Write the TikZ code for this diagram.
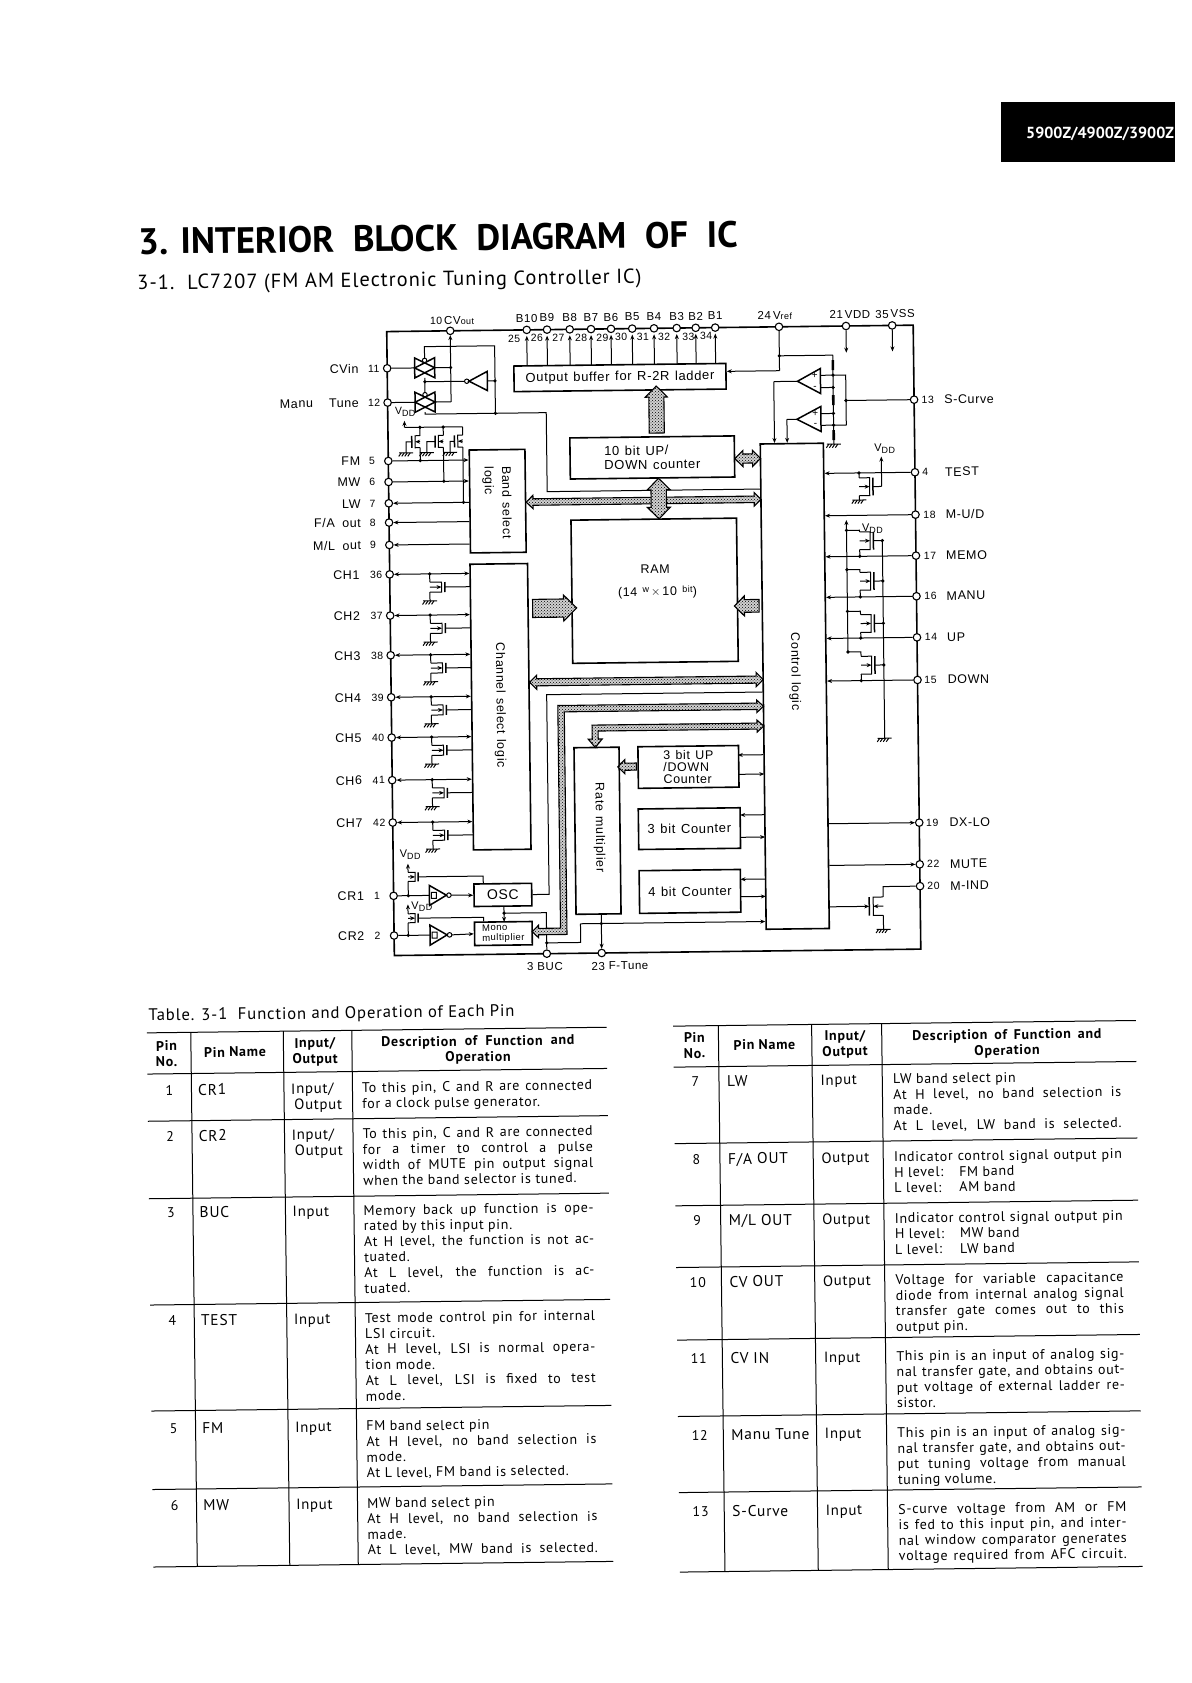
\documentclass[tikz,border=0pt]{standalone}
\usepackage{fontspec}
\setmainfont[LetterSpace=5,WordSpace=1.3]{Liberation Sans}
\newfontfamily\pagefont[LetterSpace=5]{PT Sans}
\newfontfamily\headfont{PT Sans}
\usetikzlibrary{shapes.arrows, arrows.meta, positioning, calc, patterns}

\newcommand{\jct}[2]{\fill (#1,#2) circle (1.8pt);}
\newcommand{\gnd}[2]{%
  \draw[wire] (#1-7,#2) -- (#1+7,#2);
  \foreach \tk in {-5,-2,1,4} \draw[wire] (#1+\tk,#2) -- ++(-2.5,3.5);
}
% x, y, jog, gate offset, half height
\newcommand{\mosfet}[5]{%
  \draw[wire] (#1,#2-#5) -- (#1+#3,#2-#5) -- (#1+#3,#2+#5) -- (#1,#2+#5);
  \draw[arr] (#1,#2) -- (#1+#3,#2);
  \draw[heavy] (#1+#4,#2-#5) -- (#1+#4,#2+#5);
}
\newcommand{\tgate}[2]{%
  \draw[heavy] (#1-10,#2-10) -- (#1+10,#2) -- (#1-10,#2+10) -- cycle;
  \draw[heavy] (#1+10,#2-10) -- (#1-10,#2) -- (#1+10,#2+10) -- cycle;
  \draw[wire, fill=white] (#1,#2-7.5) circle (2.2pt);
}
\newcommand{\schmitt}[2]{%
  \draw[heavy] (#1,#2-10) -- (#1+17,#2) -- (#1,#2+10) -- cycle;
  \draw[wire] (#1+2,#2-3) rectangle (#1+7,#2+3);
  \draw[wire] (#1+19.5,#2) circle (2.3pt);
}
\newcommand{\vdd}{V\raisebox{-2pt}{\fontsize{9}{9}\selectfont DD}}
\newcommand{\jL}[1]{\makebox[230pt][s]{#1}}
\newcommand{\jR}[1]{\makebox[228pt][s]{#1}}
\newcommand{\rowL}[6]{%
  \node[cell, anchor=north] (no#1) at (164,#2-5.5) {#3};
  \node[namecell, anchor=north west] (nm#1) at (192.5,#2-6) {#4};
  \node[iocell, anchor=north west] (io#1) at (285.5,#2-5.5) {#5};
  \node[cell, anchor=north west] (de#1) at (356.5,#2-5.5) {#6};
}
\newcommand{\rowR}[6]{%
  \node[cell, anchor=north] (no#1) at (690,#2-5.5) {#3};
  \node[namecell, anchor=north west] (nm#1) at (721.5,#2-6) {#4};
  \node[iocell, anchor=north west] (io#1) at (815,#2-5.5) {#5};
  \node[cell, anchor=north west] (de#1) at (887.5,#2-5.5) {#6};
}

\begin{document}
\begin{tikzpicture}[
    x=1pt, y=-1pt,
    wire/.style={line width=1pt},
    heavy/.style={line width=1.5pt},
    arr/.style={line width=1pt, -{Stealth[length=5pt,width=4pt]}},
    darr/.style={line width=1pt, {Stealth[length=5pt,width=4pt]}-{Stealth[length=5pt,width=4pt]}},
    rail/.style={line width=1.6pt},
    rule/.style={line width=1pt},
    padnode/.style={circle, draw, fill=white, line width=1.1pt, minimum size=7.5pt, inner sep=0pt},
    block/.style={rectangle, draw, line width=1.6pt, fill=white, inner sep=0pt, font=\fontsize{13}{14}\selectfont},
    lbl/.style={inner sep=0pt, font=\fontsize{12.5}{14}\selectfont},
    num/.style={inner sep=0pt, font=\fontsize{10.5}{12}\selectfont},
    toplbl/.style={inner sep=0pt, font=\fontsize{11.5}{13}\selectfont},
    rotlbl/.style={inner sep=0pt, font=\fontsize{12.5}{14}\selectfont, rotate=-90},
    bus/.style={draw, line width=1.1pt, preaction={fill=black!18}, pattern=crosshatch dots},
    busone/.style={single arrow, bus, inner sep=0pt, minimum width=0pt, single arrow head extend=3.5pt},
    bustwo/.style={double arrow, bus, inner sep=0pt, minimum width=0pt, double arrow head extend=3.5pt},
    cell/.style={inner sep=0pt, align=left, font=\pagefont\fontsize{14}{15.6}\selectfont},
    namecell/.style={inner sep=0pt, align=left, font=\pagefont\fontsize{15.5}{15.6}\selectfont},
    iocell/.style={inner sep=0pt, align=left, font=\pagefont\fontsize{14.8}{15.6}\selectfont},
    head/.style={inner sep=0pt, align=center, font=\pagefont\fontsize{14}{15.6}\selectfont\bfseries}
]
\useasboundingbox (0,0) rectangle (1191,1683);

% Corner tab
\fill (1001,102) rectangle (1175,162);
\node[inner sep=0pt, anchor=west, text=white, font=\headfont\fontsize{16}{16}\selectfont\bfseries] (tab) at (1026,134) {5900Z/4900Z/3900Z};

\begin{scope}[transform canvas={rotate around={0.7:(600,640)}}]
% Headings
\node[inner sep=0pt, anchor=west, font=\headfont\fontsize{36.7}{38}\selectfont\bfseries] (title) at (143,236) {3. INTERIOR\ \ BLOCK\ \ DIAGRAM\ \ OF\ \ IC};
\node[inner sep=0pt, anchor=west, font=\pagefont\fontsize{20.4}{22}\selectfont] (subtitle) at (141.5,279) {3-1.\ \ LC7207 (FM AM Electronic Tuning Controller IC)};

% Package outline
\coordinate (tl) at (390.5,329);
\coordinate (tr) at (917,329);
\coordinate (br) at (917,953);
\coordinate (bl) at (390.5,953);
\draw[rail] (tl) -- (tr) -- (br) -- (bl) -- cycle;

% Blocks
\node[block, minimum width=212pt, minimum height=25.6pt] (buffer) at (623.2,377.8) {Output buffer for R-2R ladder};
\node[block, minimum width=164.4pt, minimum height=41.1pt, align=left] (updown) at (654.5,458.1) {10 bit UP/\\DOWN counter};
\node[block, minimum width=165.5pt, minimum height=143.2pt] (ram) at (655.2,591.4) {};
\node[block, minimum width=63.1pt, minimum height=485.3pt] (ctrl) at (794.2,688.6) {};
\node[block, minimum width=55.7pt, minimum height=102.9pt] (band) at (499.4,499.9) {};
\node[block, minimum width=57.5pt, minimum height=285.7pt] (chan) at (499.7,705.5) {};
\node[block, minimum width=45pt, minimum height=166.6pt] (rate) at (595.2,830.7) {};
\node[block, minimum width=100.6pt, minimum height=41.6pt, align=left, font=\fontsize{12.5}{12}\selectfont] (cnta) at (686.9,768) {3 bit UP\\/DOWN\\Counter};
\node[block, minimum width=101.8pt, minimum height=40.5pt] (cntb) at (687.1,829.7) {3 bit Counter};
\node[block, minimum width=101.2pt, minimum height=42.7pt] (cntc) at (686.9,892.5) {4 bit Counter};
\node[block, minimum width=57.7pt, minimum height=22.5pt, font=\fontsize{14}{15}\selectfont] (osc) at (499.8,893.7) {OSC};
\node[block, minimum width=57.6pt, minimum height=23.3pt, align=left, font=\fontsize{9.5}{10}\selectfont] (mono) at (499.8,932.3) {Mono\\multiplier};
\node[lbl] (ramname) at (656,569.5) {RAM};
\node[lbl] (ramsize) at (658,593) {(14 \raisebox{3pt}{\fontsize{9}{9}\selectfont w}$\,\times\,$10 \raisebox{3pt}{\fontsize{9}{9}\selectfont bit})};
\node[rotlbl, anchor=west] (bandname) at (508.7,465) {Band select};
\node[rotlbl, anchor=west] (bandname2) at (490,465) {logic};
\node[rotlbl] (channame) at (499.2,704) {Channel select logic};
\node[rotlbl] (ctrlname) at (794.5,674) {Control logic};
\node[rotlbl] (ratename) at (597,827.5) {Rate multiplier};

% Left pins
\foreach \nm/\yy/\txt in {11/365.7/CVin, 12/400/{Manu\ \ \ Tune}} {
  \node[padnode] (p\nm) at (390.5,\yy) {};
  \node[lbl, anchor=east] (lab\nm) at (362,\yy) {\txt};
  \node[num] (num\nm) at (377,\yy) {\nm};
}
\foreach \nm/\yy/\txt in {5/458.4/FM, 6/479.4/MW, 7/500.7/LW, 8/520/{F/A\ \,out}, 9/542.4/{M/L\ \,out}} {
  \node[padnode] (p\nm) at (390.5,\yy) {};
  \node[lbl, anchor=east] (lab\nm) at (362.5,\yy) {\txt};
  \node[num] (num\nm) at (374.2,\yy) {\nm};
}
\foreach \nm/\yy/\txt in {36/571.8/CH1, 37/613/CH2, 38/652.7/CH3, 39/694.7/CH4, 40/735/CH5, 41/777.6/CH6, 42/820/CH7} {
  \node[padnode] (p\nm) at (390.5,\yy) {};
  \node[lbl, anchor=east] (lab\nm) at (360.5,\yy) {\txt};
  \node[num] (num\nm) at (377,\yy) {\nm};
  \draw[darr] (p\nm) -- (p\nm -| chan.west);
  \jct{430.5}{\yy}
  \draw[wire] (430.5,\yy) -- (430.5,\yy+8.3);
  \mosfet{430.5}{\yy+13.3}{11.7}{15}{5}
  \draw[wire] (430.5,\yy+18.3) -- (430.5,\yy+27);
  \gnd{430.5}{\yy+27}
  \draw[wire] (445.5,\yy+13.3) -- (471,\yy+13.3);
}
\foreach \nm/\yy/\txt in {1/893.3/CR1, 2/933/CR2} {
  \node[padnode] (p\nm) at (390.5,\yy) {};
  \node[lbl, anchor=east] (lab\nm) at (361,\yy) {\txt};
  \node[num] (num\nm) at (374,\yy) {\nm};
}

% Top pins
\node[padnode] (p10) at (454,329) {};
\node[toplbl] (lab10) at (456,318.7) {{\fontsize{10.5}{12}\selectfont 10}\,CV\raisebox{0pt}{\fontsize{9}{9}\selectfont out}};
\foreach \nm/\xx/\txt/\nx in {25/530.5/B10/517.8, 26/550.8/B9/540.5, 27/573.5/B8/562, 28/594.8/B7/584.8, 29/614.8/B6/606, 30/636/B5/624.8, 31/657.8/B4/646.5, 32/680.5/B3/667.8, 33/699.5/B2/692, 34/719/B1/709.8} {
  \node[padnode] (p\nm) at (\xx,329) {};
  \node[toplbl] (lab\nm) at (\xx,317.3) {\txt};
  \node[num] (num\nm) at (\nx,337.5) {\nm};
  \draw[arr] (\xx,365) -- (\xx,335);
}
\node[padnode] (p24) at (782.8,329) {};
\node[toplbl] (lab24) at (778.8,317.7) {24\,V\raisebox{0pt}{\fontsize{9}{9}\selectfont ref}};
\node[padnode] (p21) at (849.8,329) {};
\node[toplbl] (lab21) at (853.8,317.5) {21\,VDD};
\node[padnode] (p35) at (896,329) {};
\node[toplbl] (lab35) at (899,317.5) {35\,VSS};

% Right pins
\foreach \nm/\yy/\txt/\nx in {13/403.5/S-Curve/930.7, 4/476.1/TEST/927.2, 18/518.5/{M-U/D}/931, 17/559.5/MEMO/931, 16/600.1/MANU/931, 14/641.2/UP/931, 15/683.8/DOWN/930, 19/826.5/DX-LO/930, 22/868.2/MUTE/930.5, 20/890/M-IND/930.5} {
  \node[padnode] (p\nm) at (917,\yy) {};
  \node[num] (num\nm) at (\nx,\yy) {\nm};
  \node[lbl, anchor=west] (lab\nm) at (947,\yy) {\txt};
}

% Bottom pins
\node[padnode] (p3) at (543,953) {};
\node[toplbl] (lab3) at (541,966) {3\,\,BUC};
\node[padnode] (p23) at (597.9,953) {};
\node[toplbl] (lab23) at (616,966) {23\,\,F-Tune};

% Transfer gates
\tgate{428}{365.7}
\tgate{428}{400}
\draw[wire] (p11) -- (418,365.7);
\draw[wire] (p12) -- (418,400);
\draw[wire] (438,365.7) -- (454,365.7);
\draw[wire] (438,400) -- (454,400);
\jct{454}{365.7}
\draw[arr] (454,400) -- (p10);
\draw[wire] (428,355.7) -- (428,344.5) -- (498.2,344.5) -- (498.2,412) -- (428,412) -- (428,410);
\draw[wire] (428,375.7) -- (428,390);
\draw[heavy] (490.5,370) -- (472.2,379.6) -- (490.5,389.2) -- cycle;
\draw[wire] (469.9,379.6) circle (2.2pt);
\draw[wire] (467.7,379.6) -- (428,379.6);
\draw[wire] (490.5,379.6) -- (498.2,379.6);
\jct{428}{379.6}
\jct{498.2}{379.6}
\jct{498.2}{412}
\draw[wire] (498.2,412) -- (549,412) -- (549,491) -- (ctrl.west |- 549,491);

% Band select inputs
\node[lbl, font=\fontsize{10.5}{12}\selectfont] (vddband) at (408,409.5) {\vdd};
\draw[wire] (407.1,425.1) -- (465.2,425.1);
\draw[arr] (407.1,425.1) -- (407.1,418.4);
\jct{422.5}{425.1}
\jct{445.8}{425.1}
\mosfet{422.5}{439.5}{-5}{-8.3}{6}
\mosfet{445.8}{439.5}{-5}{-8.3}{6}
\mosfet{465.2}{439.5}{-5}{-8.3}{6}
\draw[wire] (422.5,425.1) -- (422.5,433.5) (422.5,445.5) -- (422.5,458.4);
\draw[wire] (445.8,425.1) -- (445.8,433.5) (445.8,445.5) -- (445.8,479.4);
\draw[wire] (465.2,425.1) -- (465.2,433.5) (465.2,445.5) -- (465.2,500.7);
\draw[wire] (414.2,439.5) -- (408.5,439.5) -- (408.5,450.5);
\draw[wire] (437.5,439.5) -- (429.2,439.5) -- (429.2,450.5);
\draw[wire] (456.9,439.5) -- (452.5,439.5) -- (452.5,450.5);
\gnd{408.5}{450.5}
\gnd{429.2}{450.5}
\gnd{452.5}{450.5}
\draw[arr] (p5) -- (p5 -| band.west);
\draw[arr] (p6) -- (p6 -| band.west);
\draw[arr] (p7 -| band.west) -- (p7);
\draw[arr] (p8 -| band.west) -- (p8);
\draw[arr] (p9 -| band.west) -- (p9);
\jct{422.5}{458.4}
\jct{445.8}{479.4}
\jct{465.2}{500.7}

% Ladder and comparators
\draw[arr] (p21) -- (849.8,355.7);
\draw[arr] (p35) -- (896,355);
\draw[wire] (p24) -- (782.8,372.9);
\draw[arr] (782.8,372.9) -- (782.8,372.9 -| buffer.east);
\jct{782.8}{358}
\draw[wire] (782.8,358) -- (836.2,358) -- (836.2,447);
\gnd{836.2}{447}
\draw[line width=2.6pt] (836.2,363) -- (836.2,373) (836.2,398) -- (836.2,408) (836.2,433) -- (836.2,443);
\draw[heavy] (823.6,371.2) -- (800.6,383.7) -- (823.6,396.2) -- cycle;
\draw[heavy] (823.6,409.2) -- (799.6,421.7) -- (823.6,434.2) -- cycle;
\node[num, font=\fontsize{10}{10}\selectfont] (pluscmpa) at (818,378) {+};
\node[num, font=\fontsize{10}{10}\selectfont] (minuscmpa) at (818,390.3) {-};
\node[num, font=\fontsize{10}{10}\selectfont] (pluscmpb) at (818,416.3) {+};
\node[num, font=\fontsize{10}{10}\selectfont] (minuscmpb) at (818,428) {-};
\draw[wire] (823.6,378) -- (848.9,378) -- (848.9,428) -- (823.6,428);
\draw[wire] (823.6,390.3) -- (836.2,390.3);
\draw[wire] (823.6,416.3) -- (836.2,416.3);
\jct{836.2}{378}
\jct{836.2}{390.3}
\jct{836.2}{416.3}
\jct{836.2}{428}
\jct{848.9}{403.5}
\draw[wire] (848.9,403.5) -- (p13);
\draw[wire] (800.6,383.7) -- (776.9,383.7);
\draw[arr] (776.9,383.7) -- (776.9,383.7 |- ctrl.north);
\draw[wire] (799.6,421.7) -- (789.6,421.7);
\draw[arr] (789.6,421.7) -- (789.6,421.7 |- ctrl.north);

% Right hand inputs
\draw[arr] (p4) -- (p4 -| ctrl.east);
\draw[arr] (p18) -- (p18 -| ctrl.east);
\draw[arr] (p17) -- (p17 -| ctrl.east);
\draw[arr] (p16) -- (p16 -| ctrl.east);
\draw[arr] (p14) -- (p14 -| ctrl.east);
\draw[arr] (p15) -- (p15 -| ctrl.east);
\draw[arr] (p19 -| ctrl.east) -- (p19);
\draw[arr] (p22 -| ctrl.east) -- (p22);
\node[lbl, font=\fontsize{11}{12}\selectfont] (vddtest) at (887,452.4) {\vdd};
\jct{861}{476.1}
\draw[wire] (861,476.1) -- (861,481);
\mosfet{861}{489.9}{10.5}{13.8}{8.9}
\draw[wire] (861,498.8) -- (861,503.2);
\gnd{861}{503.2}
\draw[wire] (874.8,489.9) -- (883.5,489.9);
\draw[arr] (883.5,489.9) -- (883.5,460);
\node[lbl, font=\fontsize{11}{12}\selectfont] (vddmem) at (873.8,532) {\vdd};
\draw[arr] (847.8,655) -- (847.8,523);
\draw[wire] (883.5,544) -- (883.5,741.7);
\gnd{883.5}{741.7}
\foreach \tp/\yy/\pp in {533.4/544/559.5, 572.7/584.4/600.1, 614.4/626.7/641.2, 655/668.4/683.8} {
  \jct{847.8}{\tp}
  \draw[wire] (847.8,\tp) -- (860.8,\tp) -- (860.8,\yy-8.9);
  \mosfet{860.8}{\yy}{10.5}{13.8}{8.9}
  \draw[wire] (860.8,\yy+8.9) -- (860.8,\pp);
  \jct{860.8}{\pp}
  \draw[wire] (874.6,\yy) -- (883.5,\yy);
  \jct{883.5}{\yy}
}
\mosfet{880}{909.6}{-10}{-14}{9.2}
\draw[wire] (p20) -- (880,890) -- (880,900.4);
\draw[wire] (880,918.8) -- (880,932.8);
\gnd{880}{932.8}
\draw[arr] (ctrl.east |- 866,909.6) -- (866,909.6);

% Counters
\draw[arr] (ctrl.west |- cnta.east) ++(0,-11.3) -- ++(-25.5,0);
\draw[arr] (737.2,776) -- (762.7,776);
\draw[arr] (762.7,816.7) -- (738,816.7);
\draw[arr] (738,839) -- (762.7,839);
\draw[arr] (762.7,881) -- (737.5,881);
\draw[arr] (737.5,898.4) -- (762.7,898.4);

% Oscillator section
\node[lbl, font=\fontsize{11}{12}\selectfont, anchor=west] (vddcra) at (397,852) {\vdd};
\node[lbl, font=\fontsize{11}{12}\selectfont, anchor=west] (vddcrb) at (408,904) {\vdd};
\draw[wire] (p1) -- (426.3,893.3);
\draw[wire] (p2) -- (426.5,933);
\jct{405.2}{893.3}
\jct{404.7}{933}
\mosfet{405.2}{874.6}{7}{10}{4.5}
\draw[wire] (405.2,893.3) -- (405.2,879.1);
\draw[arr] (405.2,870.1) -- (405.2,861.3);
\mosfet{404.7}{915.9}{7}{10}{4.5}
\draw[wire] (404.7,933) -- (404.7,920.4);
\draw[arr] (404.7,911.4) -- (404.7,902);
\draw[wire] (415.2,874.6) -- (480.3,874.6) -- (480.3,874.6 |- osc.north);
\draw[wire] (414.7,915.9) -- (480.3,915.9) -- (480.3,915.9 |- mono.north);
\schmitt{426.3}{893.3}
\schmitt{426.5}{933}
\draw[arr] (448.2,893.3) -- (osc.west);
\draw[arr] (448.4,933) -- (mono.west);
\draw[arr] (500.7,905) -- (500.7,920.7);
\jct{500.7}{912}
\draw[wire] (500.7,912) -- (543,912) -- (p3);
\jct{543}{942.2}
\draw[wire] (543,942.2) -- (577,942.2) -- (577,923.5);
\draw[arr] (577,923.5) -- (ctrl.west |- 577,923.5);
\jct{597.9}{923.5}
\draw[arr] (rate.south -| 597.9,923.5) -- (p23);
\draw[wire] (osc.east) -- (546,893.7) -- (546,694) -- (ctrl.west |- 546,694);

% Buses
\node[bustwo, inner sep=2.7pt, minimum width=12pt, minimum height=234.7pt] (busband) at (645.3,501.2) {};
\node[bustwo, inner sep=4pt, minimum width=14pt, minimum height=25.7pt] (busctr) at (749.9,460.3) {};
\node[bustwo, rotate=90, inner sep=6.5pt, minimum width=23pt, minimum height=40.5pt] (busram) at (660.5,499.3) {};
\node[busone, rotate=90, inner sep=7pt, minimum width=21pt, minimum height=47pt] (busout) at (659.3,414) {};
\node[busone, inner sep=7.5pt, minimum width=26pt, minimum height=44pt] (busch) at (550.5,607.6) {};
\node[busone, rotate=180, inner sep=5.5pt, minimum width=20pt, minimum height=24.7pt] (busctl) at (750.3,607.7) {};
\node[bustwo, inner sep=3pt, minimum width=12.5pt, minimum height=233.6pt] (buschan) at (645.9,681.5) {};
\node[busone, rotate=180, inner sep=3pt, minimum width=13pt, minimum height=18.6pt] (busrate) at (627.3,767) {};
\draw[bus] (762.7,708.2) -- (756,702) -- (756,705) -- (557,705) -- (557,927.6) -- (535,927.6) -- (535,924.5) -- (528.6,930.8) -- (535,937) -- (535,934) -- (563.4,934) -- (563.4,711.4) -- (756,711.4) -- (756,714.4) -- cycle;
\draw[bus] (762.7,728) -- (756,722) -- (756,725) -- (591,725) -- (591,739) -- (587,739) -- (594,747.4) -- (601,739) -- (597,739) -- (597,731) -- (756,731) -- (756,734) -- cycle;

% Table captions and rules
\node[inner sep=0pt, anchor=west, font=\pagefont\fontsize{16.7}{18}\selectfont] (tabcap) at (143.7,1011) {Table. 3-1\ \ Function and Operation of Each Pin};
\foreach \yy in {1027.3,1068.5,1115.7,1193.2,1299.5,1405.5,1484,1561.5} \draw[rule] (142,\yy) -- (602,\yy);
\foreach \xx in {186,278.5,347} \draw[rule] (\xx,1027.3) -- (\xx,1561.5);
\foreach \yy in {1027,1068,1144.5,1206.7,1268.4,1341,1417.4,1493.5,1573} \draw[rule] (668.5,\yy) -- (1131.3,\yy);
\foreach \xx in {713.6,806.9,876.9} \draw[rule] (\xx,1027) -- (\xx,1573);

\node[head] (hpa) at (161.5,1048.5) {Pin\\No.};
\node[head] (hna) at (230,1047.5) {Pin Name};
\node[head] (hia) at (310,1048.5) {Input/\\Output};
\node[head] (hda) at (473,1048.5) {\makebox[193pt][s]{Description of Function and}\\Operation};
\node[head] (hpb) at (689.5,1046.5) {Pin\\No.};
\node[head] (hnb) at (759.5,1046.8) {Pin Name};
\node[head] (hib) at (840,1047.5) {Input/\\Output};
\node[head] (hdb) at (1002,1048.5) {\makebox[189pt][s]{Description of Function and}\\Operation};

\rowL{1}{1085}{1}{CR1}{Input/\\\hspace*{3pt}Output}{\jL{To this pin, C and R are connected}\\for a clock pulse generator.}
\rowL{2}{1131}{2}{CR2}{Input/\\\hspace*{3pt}Output}{\jL{To this pin, C and R are connected}\\\jL{for a timer to control a pulse}\\\jL{width of MUTE pin output signal}\\when the band selector is tuned.}
\rowL{3}{1207.7}{3}{BUC}{Input}{\jL{Memory back up function is ope-}\\rated by this input pin.\\\jL{At H level, the function is not ac-}\\tuated.\\\jL{At L level, the function is ac-}\\tuated.}
\rowL{4}{1315.5}{4}{TEST}{Input}{\jL{Test mode control pin for internal}\\LSI circuit.\\\jL{At H level, LSI is normal opera-}\\tion mode.\\\jL{At L level, LSI is fixed to test}\\mode.}
\rowL{5}{1423.4}{5}{FM}{Input}{FM band select pin\\\jL{At H level, no band selection is}\\mode.\\At L level, FM band is selected.}
\rowL{6}{1500.6}{6}{MW}{Input}{MW band select pin\\\jL{At H level, no band selection is}\\made.\\\jL{At L level, MW band is selected.}}
\rowR{7}{1082.7}{7}{LW}{Input}{LW band select pin\\\jR{At H level, no band selection is}\\made.\\\jR{At L level, LW band is selected.}}
\rowR{8}{1160.5}{8}{F/A OUT}{Output}{\jR{Indicator control signal output pin}\\\makebox[65pt][l]{H level:}FM band\\\makebox[65pt][l]{L level:}AM band}
\rowR{9}{1222}{9}{M/L OUT}{Output}{\jR{Indicator control signal output pin}\\\makebox[65pt][l]{H level:}MW band\\\makebox[65pt][l]{L level:}LW band}
\rowR{10}{1283.5}{10}{CV OUT}{Output}{\jR{Voltage for variable capacitance}\\\jR{diode from internal analog signal}\\\jR{transfer gate comes out to this}\\output pin.}
\rowR{11}{1360}{11}{CV IN}{Input}{\jR{This pin is an input of analog sig-}\\\jR{nal transfer gate, and obtains out-}\\\jR{put voltage of external ladder re-}\\sistor.}
\rowR{12}{1436.5}{12}{Manu Tune}{Input}{\jR{This pin is an input of analog sig-}\\\jR{nal transfer gate, and obtains out-}\\\jR{put tuning voltage from manual}\\tuning volume.}
\rowR{13}{1513}{13}{S-Curve}{Input}{\jR{S-curve voltage from AM or FM}\\\jR{is fed to this input pin, and inter-}\\\jR{nal window comparator generates}\\\jR{voltage required from AFC circuit.}}
\end{scope}
\end{tikzpicture}
\end{document}
